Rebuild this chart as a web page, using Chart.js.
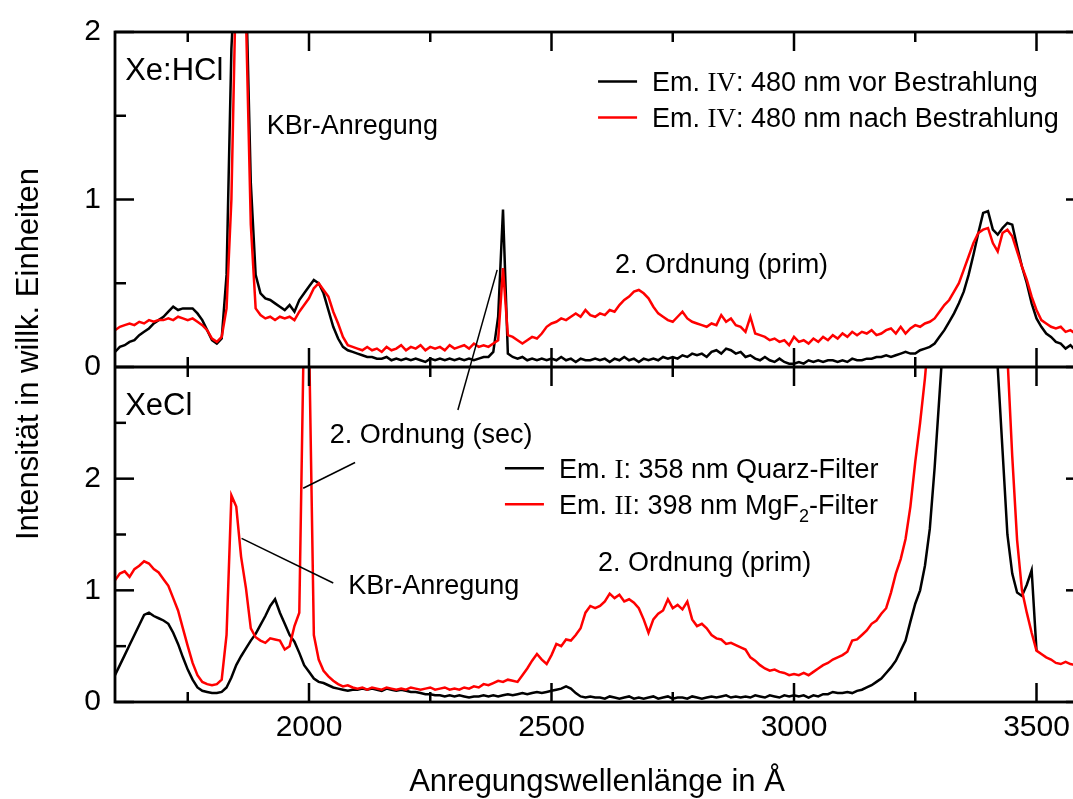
<!DOCTYPE html>
<html lang="de">
<head>
<meta charset="UTF-8">
<title>Anregungsspektren Xe:HCl / XeCl</title>
<script src="https://cdn.jsdelivr.net/npm/chart.js"></script>
<style>
  html, body { margin: 0; padding: 0; background: #fff; overflow: hidden; }
  #wrap { position: relative; width: 1088px; height: 799px; }
</style>
</head>
<body>
<div id="wrap"><canvas id="spectra"></canvas></div>
<script>
// excitation wavelength in Angstrom, 10 A steps
const wavelengths = [
    1600, 1610, 1620, 1630, 1640, 1650, 1660, 1670, 1680, 1690,
    1700, 1710, 1720, 1730, 1740, 1750, 1760, 1770, 1780, 1790,
    1800, 1810, 1820, 1830, 1840, 1850, 1860, 1870, 1880, 1890,
    1900, 1910, 1920, 1930, 1940, 1950, 1960, 1970, 1980, 1990,
    2000, 2010, 2020, 2030, 2040, 2050, 2060, 2070, 2080, 2090,
    2100, 2110, 2120, 2130, 2140, 2150, 2160, 2170, 2180, 2190,
    2200, 2210, 2220, 2230, 2240, 2250, 2260, 2270, 2280, 2290,
    2300, 2310, 2320, 2330, 2340, 2350, 2360, 2370, 2380, 2390,
    2400, 2410, 2420, 2430, 2440, 2450, 2460, 2470, 2480, 2490,
    2500, 2510, 2520, 2530, 2540, 2550, 2560, 2570, 2580, 2590,
    2600, 2610, 2620, 2630, 2640, 2650, 2660, 2670, 2680, 2690,
    2700, 2710, 2720, 2730, 2740, 2750, 2760, 2770, 2780, 2790,
    2800, 2810, 2820, 2830, 2840, 2850, 2860, 2870, 2880, 2890,
    2900, 2910, 2920, 2930, 2940, 2950, 2960, 2970, 2980, 2990,
    3000, 3010, 3020, 3030, 3040, 3050, 3060, 3070, 3080, 3090,
    3100, 3110, 3120, 3130, 3140, 3150, 3160, 3170, 3180, 3190,
    3200, 3210, 3220, 3230, 3240, 3250, 3260, 3270, 3280, 3290,
    3300, 3310, 3320, 3330, 3340, 3350, 3360, 3370, 3380, 3390,
    3400, 3410, 3420, 3430, 3440, 3450, 3460, 3470, 3480, 3490,
    3500, 3510, 3520, 3530, 3540, 3550, 3560, 3570, 3580, 3590, 3600
];

// Xe:HCl, Em. IV 480 nm, before irradiation (black)
const xeHclBefore = [
    0.09, 0.12, 0.13, 0.15, 0.16, 0.19, 0.21, 0.23, 0.26, 0.28,
    0.30, 0.33, 0.36, 0.34, 0.35, 0.35, 0.35, 0.32, 0.28, 0.22,
    0.16, 0.14, 0.17, 0.55, 1.90, 2.50, 2.60, 2.30, 1.10, 0.55,
    0.44, 0.41, 0.40, 0.38, 0.36, 0.34, 0.37, 0.33, 0.40, 0.44,
    0.48, 0.52, 0.50, 0.44, 0.34, 0.24, 0.17, 0.12, 0.10, 0.09,
    0.08, 0.07, 0.06, 0.06, 0.05, 0.05, 0.06, 0.04, 0.05, 0.04,
    0.05, 0.04, 0.05, 0.04, 0.03, 0.05, 0.04, 0.05, 0.04, 0.05,
    0.04, 0.05, 0.04, 0.05, 0.04, 0.05, 0.06, 0.06, 0.09, 0.30,
    0.94, 0.08, 0.06, 0.05, 0.06, 0.04, 0.05, 0.04, 0.05, 0.04,
    0.05, 0.04, 0.06, 0.04, 0.05, 0.03, 0.05, 0.04, 0.04, 0.05,
    0.04, 0.05, 0.03, 0.05, 0.04, 0.06, 0.04, 0.05, 0.03, 0.05,
    0.04, 0.05, 0.04, 0.06, 0.05, 0.06, 0.05, 0.07, 0.06, 0.08,
    0.07, 0.08, 0.06, 0.09, 0.10, 0.08, 0.11, 0.10, 0.08, 0.09,
    0.06, 0.07, 0.05, 0.04, 0.06, 0.04, 0.03, 0.05, 0.03, 0.02,
    0.02, 0.03, 0.02, 0.04, 0.03, 0.04, 0.03, 0.04, 0.04, 0.03,
    0.04, 0.03, 0.05, 0.04, 0.04, 0.05, 0.05, 0.06, 0.06, 0.07,
    0.06, 0.07, 0.08, 0.09, 0.08, 0.08, 0.10, 0.11, 0.12, 0.14,
    0.18, 0.22, 0.27, 0.32, 0.38, 0.45, 0.55, 0.67, 0.80, 0.92,
    0.93, 0.82, 0.79, 0.83, 0.86, 0.85, 0.72, 0.60, 0.50, 0.38,
    0.29, 0.24, 0.20, 0.18, 0.15, 0.14, 0.11, 0.13, 0.10, 0.14, 0.12
];

// Xe:HCl, Em. IV 480 nm, after irradiation (red)
const xeHclAfter = [
    0.22, 0.24, 0.25, 0.26, 0.25, 0.27, 0.26, 0.28, 0.27, 0.28,
    0.28, 0.29, 0.28, 0.30, 0.29, 0.28, 0.29, 0.27, 0.25, 0.22,
    0.17, 0.15, 0.18, 0.35, 1.00, 2.40, 2.50, 2.10, 0.85, 0.35,
    0.31, 0.29, 0.30, 0.28, 0.30, 0.29, 0.30, 0.28, 0.33, 0.37,
    0.41, 0.47, 0.50, 0.46, 0.42, 0.33, 0.26, 0.18, 0.13, 0.12,
    0.11, 0.10, 0.12, 0.10, 0.11, 0.09, 0.12, 0.10, 0.11, 0.13,
    0.10, 0.12, 0.11, 0.13, 0.10, 0.12, 0.11, 0.12, 0.10, 0.13,
    0.11, 0.12, 0.13, 0.11, 0.14, 0.12, 0.13, 0.12, 0.14, 0.16,
    0.59, 0.19, 0.18, 0.16, 0.14, 0.16, 0.18, 0.17, 0.20, 0.24,
    0.26, 0.27, 0.29, 0.28, 0.30, 0.32, 0.30, 0.34, 0.31, 0.30,
    0.32, 0.31, 0.34, 0.33, 0.37, 0.40, 0.42, 0.45, 0.46, 0.44,
    0.41, 0.36, 0.32, 0.30, 0.28, 0.27, 0.30, 0.33, 0.29, 0.27,
    0.26, 0.25, 0.24, 0.26, 0.25, 0.31, 0.27, 0.29, 0.25, 0.24,
    0.21, 0.30, 0.20, 0.19, 0.18, 0.16, 0.17, 0.15, 0.16, 0.13,
    0.18, 0.15, 0.16, 0.14, 0.17, 0.15, 0.18, 0.16, 0.19, 0.17,
    0.20, 0.18, 0.21, 0.19, 0.21, 0.20, 0.22, 0.19, 0.20, 0.22,
    0.23, 0.20, 0.24, 0.20, 0.23, 0.25, 0.24, 0.26, 0.27, 0.29,
    0.33, 0.37, 0.40, 0.45, 0.50, 0.58, 0.66, 0.74, 0.80, 0.82,
    0.83, 0.74, 0.69, 0.80, 0.82, 0.78, 0.69, 0.60, 0.52, 0.42,
    0.34, 0.28, 0.26, 0.24, 0.23, 0.24, 0.21, 0.22, 0.20, 0.23, 0.22
];

// XeCl, Em. I 358 nm, quartz filter (black)
const xeClQuarz = [
    0.24, 0.33, 0.42, 0.51, 0.60, 0.69, 0.78, 0.80, 0.77, 0.75,
    0.73, 0.70, 0.62, 0.52, 0.40, 0.29, 0.20, 0.13, 0.10, 0.09,
    0.08, 0.08, 0.09, 0.13, 0.22, 0.33, 0.41, 0.48, 0.55, 0.61,
    0.69, 0.77, 0.86, 0.92, 0.80, 0.70, 0.60, 0.54, 0.44, 0.33,
    0.27, 0.21, 0.18, 0.17, 0.15, 0.13, 0.12, 0.11, 0.10, 0.11,
    0.11, 0.12, 0.11, 0.12, 0.11, 0.10, 0.12, 0.11, 0.10, 0.11,
    0.10, 0.09, 0.09, 0.08, 0.07, 0.07, 0.06, 0.06, 0.05, 0.06,
    0.05, 0.06, 0.05, 0.04, 0.05, 0.05, 0.06, 0.05, 0.06, 0.05,
    0.06, 0.07, 0.06, 0.07, 0.08, 0.07, 0.08, 0.09, 0.08, 0.09,
    0.10, 0.11, 0.12, 0.14, 0.12, 0.08, 0.05, 0.04, 0.05, 0.04,
    0.04, 0.03, 0.05, 0.04, 0.03, 0.04, 0.05, 0.03, 0.04, 0.03,
    0.04, 0.05, 0.03, 0.04, 0.05, 0.03, 0.04, 0.04, 0.03, 0.05,
    0.04, 0.03, 0.04, 0.05, 0.04, 0.05, 0.06, 0.04, 0.05, 0.04,
    0.05, 0.04, 0.06, 0.05, 0.04, 0.06, 0.05, 0.04, 0.06, 0.05,
    0.06, 0.05, 0.06, 0.04, 0.06, 0.05, 0.07, 0.07, 0.09, 0.08,
    0.08, 0.09, 0.08, 0.10, 0.11, 0.13, 0.15, 0.18, 0.21, 0.26,
    0.31, 0.37, 0.46, 0.55, 0.72, 0.88, 1.00, 1.22, 1.55, 2.10,
    2.75, 3.40, 4.00, 4.50, 4.80, 5.00, 5.00, 4.80, 4.50, 4.20,
    3.80, 3.50, 3.00, 2.25, 1.50, 1.15, 0.98, 0.95, 1.05, 1.18,
    0.46, null, null, null, null, null, null, null, null, null, null
];

// XeCl, Em. II 398 nm, MgF2 filter (red)
const xeClMgF2 = [
    1.09, 1.15, 1.17, 1.12, 1.19, 1.22, 1.26, 1.24, 1.19, 1.16,
    1.10, 1.04, 0.93, 0.82, 0.66, 0.50, 0.35, 0.24, 0.18, 0.16,
    0.15, 0.16, 0.20, 0.60, 1.85, 1.75, 1.30, 1.02, 0.66, 0.58,
    0.55, 0.53, 0.57, 0.56, 0.55, 0.47, 0.50, 0.68, 0.80, 3.50,
    3.30, 0.60, 0.38, 0.28, 0.23, 0.19, 0.16, 0.14, 0.15, 0.13,
    0.12, 0.13, 0.11, 0.13, 0.12, 0.11, 0.13, 0.12, 0.11, 0.12,
    0.11, 0.13, 0.12, 0.11, 0.12, 0.13, 0.11, 0.12, 0.13, 0.11,
    0.12, 0.11, 0.13, 0.12, 0.14, 0.13, 0.16, 0.15, 0.17, 0.19,
    0.18, 0.20, 0.19, 0.18, 0.24, 0.30, 0.37, 0.43, 0.38, 0.34,
    0.42, 0.52, 0.50, 0.56, 0.55, 0.60, 0.66, 0.80, 0.86, 0.84,
    0.86, 0.90, 0.97, 0.93, 0.96, 0.90, 0.92, 0.89, 0.84, 0.74,
    0.62, 0.74, 0.79, 0.82, 0.92, 0.84, 0.87, 0.83, 0.90, 0.74,
    0.68, 0.70, 0.66, 0.60, 0.57, 0.56, 0.52, 0.53, 0.51, 0.49,
    0.47, 0.40, 0.37, 0.33, 0.30, 0.28, 0.29, 0.27, 0.26, 0.24,
    0.25, 0.24, 0.26, 0.24, 0.27, 0.30, 0.33, 0.35, 0.38, 0.40,
    0.42, 0.45, 0.55, 0.56, 0.60, 0.64, 0.70, 0.73, 0.79, 0.84,
    0.98, 1.15, 1.28, 1.46, 1.75, 2.15, 2.50, 2.90, 3.40, 3.90,
    4.30, 4.60, 4.80, 5.00, 5.00, 5.00, 5.00, 4.90, 4.80, 4.60,
    4.50, 4.30, 4.00, 3.60, 3.10, 2.20, 1.45, 1.00, 0.80, 0.62,
    0.46, 0.43, 0.40, 0.38, 0.35, 0.34, 0.36, 0.34, 0.33, 0.32, 0.33
];

const xTicksMajor = [2000, 2500, 3000, 3500];
const xTicksMinor = [1750, 2250, 2750, 3250];
const topTicksMajor = [0, 1, 2];
const topTicksMinor = [0.5, 1.5];
const bottomTicksMajor = [0, 1, 2];
const bottomTicksMinor = [0.5, 1.5, 2.5];

const legendTop = [
    { color: '#000000', parts: [{ t: 'Em. ' }, { t: 'IV', serif: true }, { t: ': 480 nm vor Bestrahlung' }] },
    { color: '#ff0000', parts: [{ t: 'Em. ' }, { t: 'IV', serif: true }, { t: ': 480 nm nach Bestrahlung' }] }
];
const legendBottom = [
    { color: '#000000', parts: [{ t: 'Em. ' }, { t: 'I', serif: true }, { t: ': 358 nm Quarz-Filter' }] },
    { color: '#ff0000', parts: [{ t: 'Em. ' }, { t: 'II', serif: true }, { t: ': 398 nm MgF' }, { t: '2', sub: true }, { t: '-Filter' }] }
];

// labels placed in data units: [wavelength, intensity, panel]
const labels = [
    { text: 'Xe:HCl', x: 1621, y: 1.713, panel: 'yTop', size: 31 },
    { text: 'KBr-Anregung', x: 1913, y: 1.389, panel: 'yTop', size: 27 },
    { text: '2. Ordnung (prim)', x: 2631, y: 0.563, panel: 'yTop', size: 27 },
    { text: 'XeCl', x: 1621, y: 2.573, panel: 'yBottom', size: 31 },
    { text: '2. Ordnung (sec)', x: 2043, y: 2.322, panel: 'yBottom', size: 27 },
    { text: 'KBr-Anregung', x: 2081, y: 0.963, panel: 'yBottom', size: 27 },
    { text: '2. Ordnung (prim)', x: 2596, y: 1.170, panel: 'yBottom', size: 27 }
];
const callouts = [
    { from: [2388, 0.580, 'yTop'], to: [2307, 2.615, 'yBottom'] },
    { from: [2095, 2.145, 'yBottom'], to: [1988, 1.914, 'yBottom'] },
    { from: [1861, 1.465, 'yBottom'], to: [2050, 1.066, 'yBottom'] }
];

const SANS = '"Liberation Sans", Arial, sans-serif';
const SERIF = '"Liberation Serif", "Times New Roman", serif';

function points(values) {
    return values.map((v, i) => ({ x: wavelengths[i], y: v }));
}

function drawRich(ctx, parts, x, y, size) {
    for (const p of parts) {
        const fs = p.sub ? Math.round(size * 0.65) : size;
        ctx.font = fs + 'px ' + (p.serif ? SERIF : SANS);
        ctx.fillText(p.t, x, p.sub ? y + size * 0.3 : y);
        x += ctx.measureText(p.t).width;
    }
}

const panelPlugin = {
    id: 'panels',
    beforeDatasetDraw(chart, args) {
        const a = chart.chartArea, ys = args.meta.yScale, ctx = chart.ctx;
        ctx.save();
        ctx.beginPath();
        ctx.rect(a.left, ys.top, a.right - a.left, ys.bottom - ys.top);
        ctx.clip();
    },
    afterDatasetDraw(chart) {
        chart.ctx.restore();
    },
    afterDatasetsDraw(chart) {
        const { ctx, chartArea: a, scales } = chart;
        const x = scales.x, yt = scales.yTop, yb = scales.yBottom;
        const seg = (x1, y1, x2, y2) => { ctx.beginPath(); ctx.moveTo(x1, y1); ctx.lineTo(x2, y2); ctx.stroke(); };
        ctx.save();
        ctx.strokeStyle = '#000';
        ctx.lineWidth = 2.8;
        ctx.strokeRect(a.left, a.top, a.right - a.left, a.bottom - a.top);
        seg(a.left, yt.bottom, a.right, yt.bottom);

        ctx.lineWidth = 2.5;
        for (const [vals, len] of [[xTicksMajor, 19], [xTicksMinor, 10]]) {
            for (const v of vals) {
                const px = x.getPixelForValue(v);
                seg(px, a.top, px, a.top + len);
                seg(px, yt.bottom - len, px, yt.bottom + len);
                seg(px, a.bottom - len, px, a.bottom);
            }
        }
        for (const [sc, major, minor] of [[yt, topTicksMajor, topTicksMinor], [yb, bottomTicksMajor, bottomTicksMinor]]) {
            for (const [vals, len] of [[major, 19], [minor, 11]]) {
                for (const v of vals) {
                    const py = sc.getPixelForValue(v);
                    seg(a.left, py, a.left + len, py);
                    seg(a.right - len, py, a.right, py);
                }
            }
        }

        // callout lines
        ctx.lineWidth = 1.5;
        for (const c of callouts) {
            seg(x.getPixelForValue(c.from[0]), scales[c.from[2]].getPixelForValue(c.from[1]),
                x.getPixelForValue(c.to[0]), scales[c.to[2]].getPixelForValue(c.to[1]));
        }

        // text labels
        ctx.fillStyle = '#000';
        ctx.textAlign = 'left';
        ctx.textBaseline = 'alphabetic';
        for (const l of labels) {
            ctx.font = l.size + 'px ' + SANS;
            ctx.fillText(l.text, x.getPixelForValue(l.x), scales[l.panel].getPixelForValue(l.y));
        }

        // legends
        const drawLegend = (rows, lx, ly) => {
            rows.forEach((r, i) => {
                const cy = ly + i * 36;
                ctx.strokeStyle = r.color;
                ctx.lineWidth = 2.5;
                seg(lx, cy, lx + 39, cy);
                ctx.fillStyle = '#000';
                drawRich(ctx, r.parts, lx + 54, cy + 9.5, 27);
            });
        };
        drawLegend(legendTop, x.getPixelForValue(2596), yt.getPixelForValue(1.705));
        drawLegend(legendBottom, x.getPixelForValue(2404), yb.getPixelForValue(2.094));

        // axis titles
        ctx.fillStyle = '#000';
        ctx.font = '31px ' + SANS;
        ctx.textAlign = 'center';
        ctx.fillText('Anregungswellenlänge in Å', 597, 791);
        ctx.translate(38, 354);
        ctx.rotate(-Math.PI / 2);
        ctx.fillText('Intensität in willk. Einheiten', 0, 0);
        ctx.restore();
    }
};

const tickFont = { family: SANS, size: 30 };

new Chart(document.getElementById('spectra'), {
    type: 'line',
    data: {
        datasets: [
            { label: 'Em. IV: 480 nm nach Bestrahlung', data: points(xeHclAfter), yAxisID: 'yTop',
              borderColor: '#ff0000', order: 1 },
            { label: 'Em. IV: 480 nm vor Bestrahlung', data: points(xeHclBefore), yAxisID: 'yTop',
              borderColor: '#000000', order: 2 },
            { label: 'Em. II: 398 nm MgF2-Filter', data: points(xeClMgF2), yAxisID: 'yBottom',
              borderColor: '#ff0000', order: 1 },
            { label: 'Em. I: 358 nm Quarz-Filter', data: points(xeClQuarz), yAxisID: 'yBottom',
              borderColor: '#000000', order: 2 }
        ]
    },
    options: {
        responsive: true,
        maintainAspectRatio: false,
        animation: false,
        datasets: { line: { borderWidth: 2.5, pointRadius: 0, tension: 0, fill: false, spanGaps: false } },
        layout: { padding: { top: 24, right: 3, bottom: 0, left: 0 } },
        plugins: { legend: { display: false }, tooltip: { enabled: false } },
        scales: {
            x: {
                type: 'linear', min: 1600, max: 3600,
                grid: { display: false, drawTicks: false }, border: { display: false },
                afterBuildTicks: s => { s.ticks = xTicksMajor.map(v => ({ value: v })); },
                afterFit: s => { s.height = 97; },
                ticks: { padding: 8, color: '#000', font: tickFont, maxRotation: 0, autoSkip: false,
                         callback: v => String(v) }
            },
            yBottom: {
                type: 'linear', position: 'left', stack: 'panels', stackWeight: 1, min: 0, max: 3,
                grid: { display: false, drawTicks: false }, border: { display: false },
                afterBuildTicks: s => { s.ticks = bottomTicksMajor.map(v => ({ value: v })); },
                afterFit: s => { s.width = 115; },
                ticks: { padding: 14, color: '#000', font: tickFont, callback: v => String(v) }
            },
            yTop: {
                type: 'linear', position: 'left', stack: 'panels', stackWeight: 1, min: 0, max: 2,
                grid: { display: false, drawTicks: false }, border: { display: false },
                afterBuildTicks: s => { s.ticks = topTicksMajor.map(v => ({ value: v })); },
                afterFit: s => { s.width = 115; },
                ticks: { padding: 14, color: '#000', font: tickFont, callback: v => String(v) }
            }
        }
    },
    plugins: [panelPlugin]
});
</script>
</body>
</html>
